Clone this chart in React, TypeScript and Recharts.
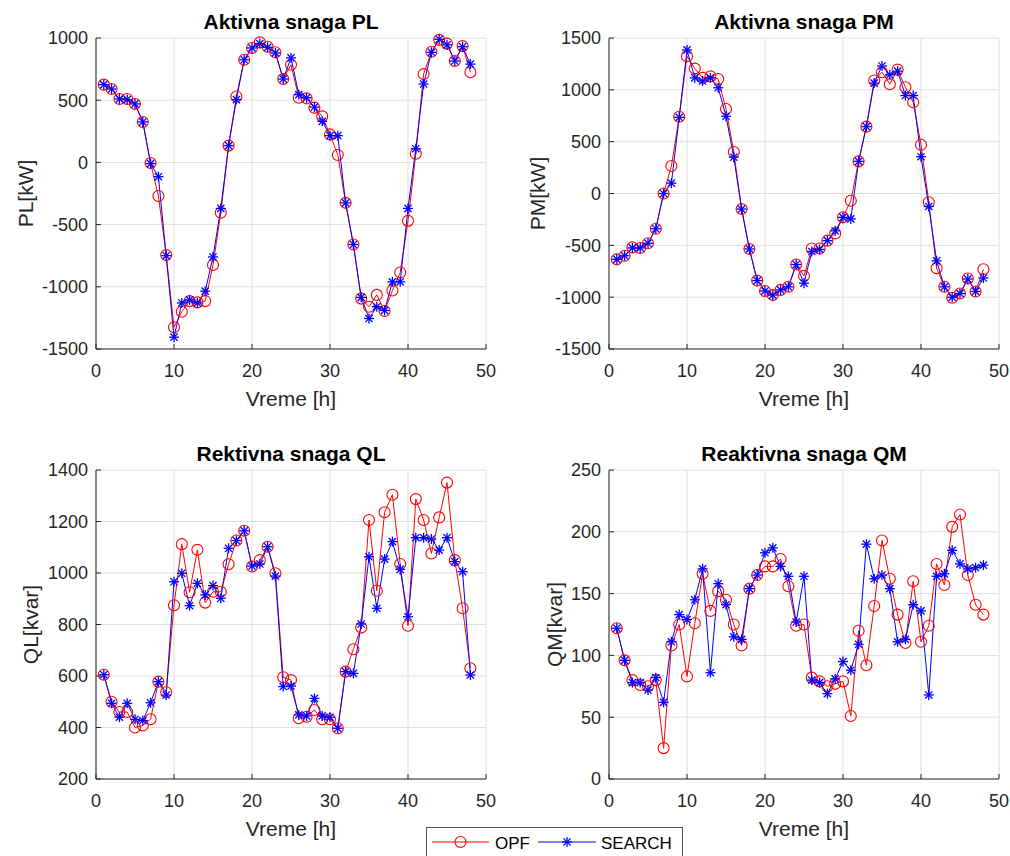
import React from 'react';
import { LineChart, Line, XAxis, YAxis, CartesianGrid } from 'recharts';

const FONT = '"Liberation Sans", Arial, Helvetica, sans-serif';
const INK = '#262626';

// sati 1..48
const hours = [
  1, 2, 3, 4, 5, 6, 7, 8, 9, 10, 11, 12, 13, 14, 15, 16, 17, 18, 19, 20, 21, 22, 23, 24,
  25, 26, 27, 28, 29, 30, 31, 32, 33, 34, 35, 36, 37, 38, 39, 40, 41, 42, 43, 44, 45, 46, 47, 48,
];
const xTicks = [0, 10, 20, 30, 40, 50];

const plOpf = [
  625, 590, 510, 510, 470, 325, -5, -270, -745, -1325, -1200, -1115, -1125, -1115, -825, -405,
  135, 530, 825, 920, 965, 930, 885, 670, 785, 520, 515, 440, 370, 225, 60, -325,
  -660, -1095, -1160, -1065, -1195, -1030, -885, -470, 70, 710, 890, 985, 955, 815, 935, 725,
];
const plSearch = [
  625, 590, 510, 505, 470, 325, -10, -115, -750, -1405, -1130, -1105, -1130, -1035, -760, -370,
  135, 505, 825, 920, 955, 925, 880, 670, 840, 545, 520, 445, 330, 215, 215, -325,
  -660, -1085, -1255, -1160, -1190, -960, -960, -370, 110, 630, 885, 990, 945, 815, 930, 790,
];
const plTicks = [-1500, -1000, -500, 0, 500, 1000];

const pmOpf = [
  -635, -600, -520, -525, -480, -340, 0, 265, 740, 1325, 1205, 1115, 1130, 1105, 815, 400,
  -150, -535, -840, -940, -980, -930, -900, -685, -795, -530, -530, -455, -385, -230, -70, 310,
  645, 1090, 1170, 1055, 1195, 1025, 880, 470, -85, -720, -900, -1005, -965, -820, -945, -730,
];
const pmSearch = [
  -635, -600, -525, -525, -480, -340, 0, 100, 735, 1385, 1115, 1085, 1115, 1020, 745, 350,
  -150, -535, -840, -940, -980, -930, -900, -685, -865, -560, -540, -455, -360, -230, -245, 310,
  645, 1065, 1230, 1145, 1180, 945, 945, 355, -125, -650, -900, -1000, -965, -825, -945, -815,
];
const pmTicks = [-1500, -1000, -500, 0, 500, 1000, 1500];

const qlOpf = [
  605, 500, 460, 460, 400, 408, 432, 578, 537, 875, 1112, 925, 1090, 885, 927, 927,
  1034, 1126, 1164, 1025, 1050, 1102, 999, 595, 584, 436, 442, 468, 432, 432, 397, 617,
  704, 788, 1206, 931, 1236, 1304, 1035, 795, 1287, 1206, 1076, 1216, 1351, 1050, 863, 630,
];
const qlSearch = [
  605, 494, 440, 494, 432, 427, 496, 578, 526, 966, 999, 873, 960, 915, 951, 902,
  1096, 1126, 1164, 1027, 1035, 1102, 988, 559, 561, 449, 445, 513, 445, 440, 397, 617,
  610, 802, 1063, 863, 1054, 1122, 1014, 830, 1137, 1137, 1132, 1089, 1137, 1044, 1005, 604,
];
const qlTicks = [200, 400, 600, 800, 1000, 1200, 1400];

const qmOpf = [
  122, 96, 80, 76, 75, 80, 25, 108, 125, 83, 126, 166, 136, 152, 145, 125,
  108, 154, 165, 172, 172, 178, 156, 124, 125, 82, 79, 75, 77, 79, 51, 120,
  92, 140, 193, 162, 133, 110, 160, 111, 124, 174, 157, 204, 214, 165, 141, 133,
];
const qmSearch = [
  122, 96, 78, 78, 72, 82, 62, 111, 133, 129, 145, 170, 86, 158, 141, 115,
  113, 154, 165, 183, 187, 172, 164, 127, 164, 80, 78, 69, 81, 95, 88, 109,
  190, 162, 165, 154, 111, 113, 141, 136, 68, 164, 166, 185, 174, 170, 171, 173,
];
const qmTicks = [0, 50, 100, 150, 200, 250];

const seriesNames = ['OPF', 'SEARCH'];

// zvezdica kao u MATLAB-u (*)
const StarMark = ({ cx, cy, size = 5 }: any) => {
  if (cx == null || cy == null) return null;
  const d = size * 0.72;
  return (
    <g stroke="#0000ff" strokeWidth={1.3}>
      <line x1={cx - size} y1={cy} x2={cx + size} y2={cy} />
      <line x1={cx} y1={cy - size} x2={cx} y2={cy + size} />
      <line x1={cx - d} y1={cy - d} x2={cx + d} y2={cy + d} />
      <line x1={cx - d} y1={cy + d} x2={cx + d} y2={cy - d} />
    </g>
  );
};

const tickStyle = { fontSize: 18, fill: INK, fontFamily: FONT };

function Panel({ left, top, height, opf, search, ticks }: any) {
  const data = hours.map((h, i) => ({ h, opf: opf[i], search: search[i] }));
  const domain = [ticks[0], ticks[ticks.length - 1]];
  return (
    <div style={{ position: 'absolute', left: left - 70, top: top - 10 }}>
      <LineChart width={470} height={height + 50} data={data} margin={{ top: 10, right: 10, bottom: 0, left: 0 }}>
        <CartesianGrid stroke="#dedede" strokeWidth={1} />
        <XAxis
          dataKey="h"
          type="number"
          domain={[0, 50]}
          ticks={xTicks}
          interval={0}
          height={40}
          stroke={INK}
          tickSize={-5}
          tickMargin={20}
          tick={tickStyle}
        />
        <XAxis xAxisId="top" orientation="top" dataKey="h" type="number" domain={[0, 50]} ticks={xTicks}
          interval={0} height={0} stroke={INK} tickSize={-5} tick={false} />
        <YAxis
          type="number"
          domain={domain}
          ticks={ticks}
          interval={0}
          width={70}
          stroke={INK}
          tickSize={-5}
          tickMargin={13}
          tick={tickStyle}
        />
        <YAxis yAxisId="right" orientation="right" type="number" domain={domain} ticks={ticks}
          interval={0} width={0} stroke={INK} tickSize={-5} tick={false} />
        <Line
          dataKey="opf"
          name={seriesNames[0]}
          stroke="#ff0000"
          strokeWidth={1}
          dot={{ r: 5.5, stroke: '#ff0000', strokeWidth: 1.1, fill: 'none' }}
          isAnimationActive={false}
        />
        <Line
          dataKey="search"
          name={seriesNames[1]}
          stroke="#0000ff"
          strokeWidth={1}
          dot={(p: any) => <StarMark key={`s-${p.index}`} cx={p.cx} cy={p.cy} />}
          isAnimationActive={false}
        />
      </LineChart>
    </div>
  );
}

const panels = [
  { left: 96, top: 38, height: 311, title: 'Aktivna snaga PL', yLabel: 'PL[kW]', labelX: 33, opf: plOpf, search: plSearch, ticks: plTicks },
  { left: 609, top: 38, height: 311, title: 'Aktivna snaga PM', yLabel: 'PM[kW]', labelX: 545, opf: pmOpf, search: pmSearch, ticks: pmTicks },
  { left: 96, top: 470, height: 309, title: 'Rektivna snaga QL', yLabel: 'QL[kvar]', labelX: 38, opf: qlOpf, search: qlSearch, ticks: qlTicks },
  { left: 609, top: 470, height: 309, title: 'Reaktivna snaga QM', yLabel: 'QM[kvar]', labelX: 562, opf: qmOpf, search: qmSearch, ticks: qmTicks },
];

export default function App() {
  return (
    <div style={{ position: 'absolute', left: 0, top: 0, width: 1010, height: 856, background: '#fff', overflow: 'hidden' }}>
      {panels.map((p) => (
        <Panel key={p.title} {...p} />
      ))}
      <svg width={1010} height={856} style={{ position: 'absolute', left: 0, top: 0, pointerEvents: 'none' }} fontFamily={FONT}>
        {panels.map((p) => (
          <g key={p.title}>
            <text x={p.left + 195} y={p.top - 9} textAnchor="middle" fontSize={21} fontWeight="bold" fill="#000">
              {p.title}
            </text>
            <text x={p.left + 195} y={p.top + p.height + 57} textAnchor="middle" fontSize={21} fill={INK}>
              Vreme [h]
            </text>
            <text
              x={p.labelX}
              y={p.top + p.height / 2}
              textAnchor="middle"
              fontSize={21}
              fill={INK}
              transform={`rotate(-90 ${p.labelX} ${p.top + p.height / 2})`}
            >
              {p.yLabel}
            </text>
          </g>
        ))}
        <g>
          <rect x={426.5} y={827.5} width={256} height={40} fill="#fff" stroke="#555" strokeWidth={1} />
          <line x1={432} y1={842} x2={489} y2={842} stroke="#ff0000" strokeWidth={1} />
          <circle cx={460.5} cy={842} r={5.5} fill="none" stroke="#ff0000" strokeWidth={1.1} />
          <text x={495} y={848.5} fontSize={17} fill="#000">{seriesNames[0]}</text>
          <line x1={538} y1={842} x2={596} y2={842} stroke="#0000ff" strokeWidth={1} />
          <StarMark cx={567} cy={842} />
          <text x={601} y={848.5} fontSize={17} fill="#000">{seriesNames[1]}</text>
        </g>
      </svg>
    </div>
  );
}
